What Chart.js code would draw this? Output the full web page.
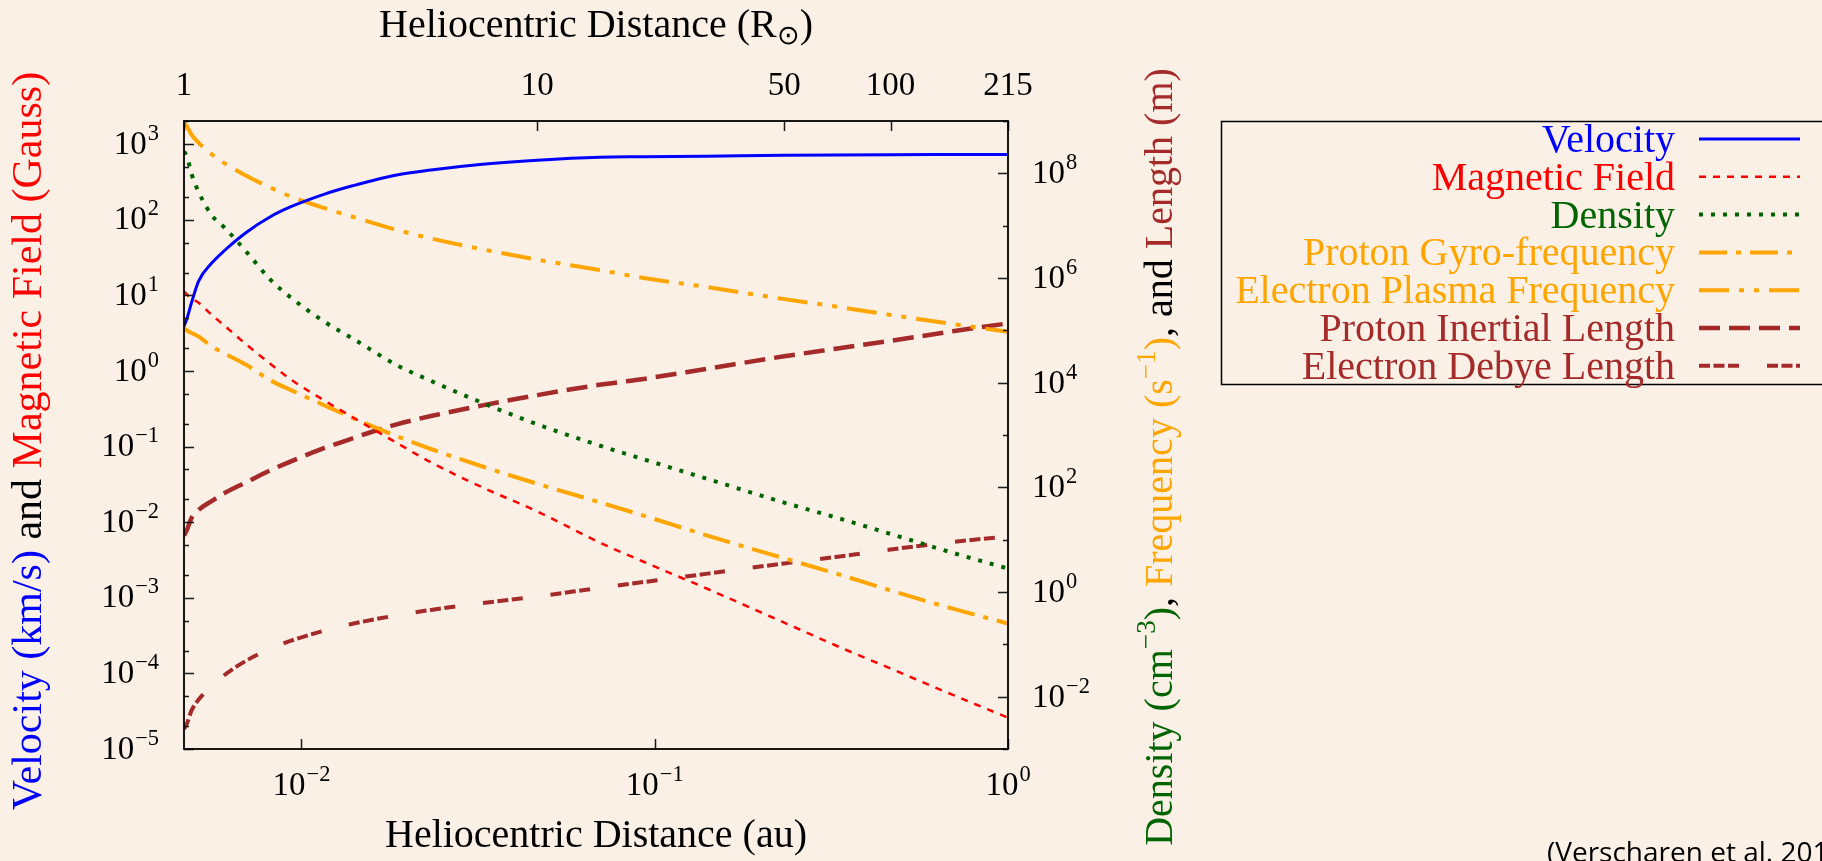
<!DOCTYPE html>
<html>
<head>
<meta charset="utf-8">
<title>Solar wind parameters vs heliocentric distance</title>
<script src="https://cdn.jsdelivr.net/npm/chart.js@4.4.1/dist/chart.umd.min.js"></script>
<style>
  html, body { margin: 0; padding: 0; background: #faf0e6; overflow: hidden; }
  #wrap { position: relative; width: 1822px; height: 861px; overflow: hidden; }
  #cite {
    position: absolute; left: 1547px; top: 837px;
    font-family: "Open Sans", "Liberation Sans", sans-serif; font-size: 28px;
    color: #000; white-space: nowrap; line-height: 28px;
  }
</style>
</head>
<body>
<div id="wrap">
  <canvas id="chart" width="1822" height="861"></canvas>
  <div id="cite">(Verscharen et al. 2019)</div>
</div>
<script>
// distance from the sun centre, in solar radii
const radius = [1, 1.02, 1.05, 1.1, 1.2, 1.3, 1.5, 1.75, 2, 2.5, 3, 4, 5, 7, 10, 15, 20, 30, 50, 70, 100, 150, 215];

// left axis: km/s and Gauss
const velocity = [3.9, 5.0, 8.0, 15.5, 27, 39, 68, 109, 148, 219, 282, 393, 457, 544, 615, 673, 683, 695, 714, 722, 728, 730, 730];
const magneticField = [11.3, 10.3, 9.2, 8.0, 5.5, 4.0, 2.25, 1.26, 0.78, 0.405, 0.245, 0.112, 0.062, 0.0288, 0.0139, 0.0054, 0.0030, 0.00134, 0.00047, 0.000234, 0.000116, 5.2e-5, 2.6e-5];

// right axis: cm^-3, s^-1 and m
const density = [2.6e8, 2.08e8, 9.8e7, 4.4e7, 1.55e7, 9.3e6, 3.2e6, 9.5e5, 4.3e5, 1.45e5, 7.0e4, 2.17e4, 1.08e4, 4.1e3, 1.6e3, 630, 343, 148, 51, 26.6, 12.9, 5.6, 2.8];
const protonGyro = [1.09e5, 9.9e4, 8.9e4, 7.6e4, 4.9e4, 3.64e4, 2.19e4, 1.12e4, 7.3e3, 3.67e3, 2.12e3, 950, 540, 250, 117, 52, 28.8, 12.2, 4.4, 2.26, 1.07, 0.48, 0.25];
const electronPlasma = [9.0e8, 7.8e8, 5.5e8, 3.83e8, 2.29e8, 1.57e8, 9.0e7, 5.4e7, 3.63e7, 2.16e7, 1.48e7, 8.3e6, 5.7e6, 3.53e6, 2.24e6, 1.42e6, 1.0e6, 6.76e5, 3.95e5, 2.85e5, 1.97e5, 1.32e5, 9.4e4];
const inertialLength = [12, 15.5, 26, 37, 55, 77, 125, 209, 310, 565, 865, 1600, 2300, 3680, 5780, 9100, 1.18e4, 1.83e4, 3.19e4, 4.45e4, 6.3e4, 9.6e4, 1.36e5];
const debyeLength = [2.4e-3, 3.1e-3, 5.4e-3, 8.8e-3, 0.016, 0.0257, 0.0487, 0.082, 0.116, 0.183, 0.247, 0.358, 0.455, 0.614, 0.82, 1.2, 1.55, 2.22, 3.52, 4.67, 6.47, 9.06, 11.5];

// tick lists
const rsunTicks = [1, 10, 50, 100, 215];
const auTicks = [0.01, 0.1, 1];
const leftMajorExp = [-5, -4, -3, -2, -1, 0, 1, 2, 3];
const leftMinorMult = [2, 5];
const rightLabelExp = [-2, 0, 2, 4, 6, 8];
const rightMinorExp = [-3, -1, 1, 3, 5, 7, 9];

const RSUN_PER_AU = 215.03;

const SERIF = '"Liberation Serif", "Times New Roman", serif';
const font = size => size + 'px ' + SERIF;

const BLUE = '#0000ff', RED = '#ff0000', GREEN = '#006400', ORANGE = '#ffa500', BROWN = '#a52a2a';

function series(label, values, color, axis, width, dash) {
  return {
    label: label,
    data: radius.map((r, i) => ({ x: r, y: values[i] })),
    borderColor: color,
    backgroundColor: color,
    borderWidth: width,
    borderDash: dash,
    borderCapStyle: 'butt',
    xAxisID: 'xr',
    yAxisID: axis,
    clip: 0,
    fill: false
  };
}

const datasets = [
  series('Velocity', velocity, BLUE, 'yl', 3, []),
  series('Magnetic Field', magneticField, RED, 'yl', 2.5, [7, 7]),
  series('Density', density, GREEN, 'yr', 4, [4, 8]),
  series('Proton Gyro-frequency', protonGyro, ORANGE, 'yr', 4, [28, 9, 5, 9]),
  series('Electron Plasma Frequency', electronPlasma, ORANGE, 'yr', 4, [30, 10, 5, 10, 5, 10]),
  series('Proton Inertial Length', inertialLength, BROWN, 'yr', 4.5, [21, 9]),
  series('Electron Debye Length', debyeLength, BROWN, 'yr', 4, [11, 3.5, 11, 3.5, 11, 28])
];

// draw a run of text pieces, some of them raised or lowered
function richWidth(ctx, parts, size) {
  let w = 0;
  for (const p of parts) {
    ctx.font = font(p.sup || p.sub ? size * 0.68 : size);
    w += ctx.measureText(p.t).width + (p.gap || 0);
  }
  return w;
}

function drawRich(ctx, parts, x, y, size, align) {
  const total = richWidth(ctx, parts, size);
  let cx = align === 'center' ? x - total / 2 : align === 'right' ? x - total : x;
  ctx.textAlign = 'left';
  ctx.textBaseline = 'alphabetic';
  for (const p of parts) {
    const s = p.sup || p.sub ? size * 0.68 : size;
    ctx.font = font(s);
    ctx.fillStyle = p.c || '#000';
    const dy = p.sup ? -size * 0.42 : p.sub ? size * 0.18 : 0;
    cx += p.gap || 0;
    ctx.fillText(p.t, cx, y + dy);
    cx += ctx.measureText(p.t).width;
  }
}

function powParts(exp) {
  const e = exp < 0 ? '\u2212' + (-exp) : String(exp);
  return [{ t: '10' }, { t: e, sup: true, gap: 1 }];
}

const decorations = {
  id: 'decorations',
  afterDraw(chart) {
    const ctx = chart.ctx;
    const a = chart.chartArea;
    const s = chart.scales;
    ctx.save();

    // inward tick marks
    ctx.strokeStyle = '#1a1a1a';
    ctx.lineWidth = 1.5;
    ctx.beginPath();
    s.yl.ticks.forEach(t => {
      const y = Math.round(s.yl.getPixelForValue(t.value)) + 0.5;
      ctx.moveTo(a.left, y);
      ctx.lineTo(a.left + (t.major ? 10 : 5), y);
    });
    s.yr.ticks.forEach(t => {
      const y = Math.round(s.yr.getPixelForValue(t.value)) + 0.5;
      ctx.moveTo(a.right, y);
      ctx.lineTo(a.right - (t.major ? 10 : 5), y);
    });
    s.xr.ticks.forEach(t => {
      const x = Math.round(s.xr.getPixelForValue(t.value)) + 0.5;
      ctx.moveTo(x, a.top);
      ctx.lineTo(x, a.top + 10);
    });
    s.xa.ticks.forEach(t => {
      const x = Math.round(s.xa.getPixelForValue(t.value)) + 0.5;
      ctx.moveTo(x, a.bottom);
      ctx.lineTo(x, a.bottom - 10);
    });
    ctx.stroke();

    // frame
    ctx.strokeStyle = '#000';
    ctx.lineWidth = 1.8;
    ctx.strokeRect(a.left, a.top, a.right - a.left, a.bottom - a.top);

    // tick labels
    const TS = 33;
    s.yl.ticks.filter(t => t.major).forEach(t => {
      const y = s.yl.getPixelForValue(t.value);
      drawRich(ctx, powParts(Math.round(Math.log10(t.value))), 159, y + 9.5, TS, 'right');
    });
    s.yr.ticks.filter(t => t.major).forEach(t => {
      const y = s.yr.getPixelForValue(t.value);
      drawRich(ctx, powParts(Math.round(Math.log10(t.value))), 1032, y + 10, TS, 'left');
    });
    s.xa.ticks.forEach(t => {
      const x = s.xa.getPixelForValue(t.value);
      drawRich(ctx, powParts(Math.round(Math.log10(t.value))), x, 795, TS, 'center');
    });
    s.xr.ticks.forEach(t => {
      const x = s.xr.getPixelForValue(t.value);
      drawRich(ctx, [{ t: String(t.value) }], x, 95, TS, 'center');
    });

    // axis titles
    const midX = (a.left + a.right) / 2;
    drawRich(ctx, [{ t: 'Heliocentric Distance (R' }, { t: '\u2299', sub: true }, { t: ')' }], midX, 37, 40, 'center');
    drawRich(ctx, [{ t: 'Heliocentric Distance (au)' }], midX, 847, 40, 'center');

    ctx.save();
    ctx.translate(41, 441);
    ctx.rotate(-Math.PI / 2);
    drawRich(ctx, [
      { t: 'Velocity (km/s)', c: BLUE },
      { t: ' and ' },
      { t: 'Magnetic Field (Gauss)', c: RED }
    ], 0, 0, 42, 'center');
    ctx.restore();

    ctx.save();
    ctx.translate(1172, 457);
    ctx.rotate(-Math.PI / 2);
    drawRich(ctx, [
      { t: 'Density (cm', c: GREEN }, { t: '\u22123', sup: true, c: GREEN }, { t: ')', c: GREEN },
      { t: ', ' },
      { t: 'Frequency (s', c: ORANGE }, { t: '\u22121', sup: true, c: ORANGE }, { t: ')', c: ORANGE },
      { t: ', and ' },
      { t: 'Length (m)', c: BROWN }
    ], 0, 0, 40, 'center');
    ctx.restore();

    // legend box on the right
    ctx.strokeStyle = '#000';
    ctx.lineWidth = 1.5;
    ctx.strokeRect(1221.5, 121.5, 700, 263);
    chart.data.datasets.forEach((ds, i) => {
      const y = 139 + i * 37.8;
      drawRich(ctx, [{ t: ds.label, c: ds.borderColor }], 1675, y + 13, 40, 'right');
      ctx.beginPath();
      ctx.strokeStyle = ds.borderColor;
      ctx.lineWidth = ds.borderWidth;
      ctx.lineCap = 'butt';
      ctx.setLineDash(ds.borderDash);
      ctx.moveTo(1699, y);
      ctx.lineTo(1800, y);
      ctx.stroke();
      ctx.setLineDash([]);
    });

    ctx.restore();
  }
};

function logTicks(list) {
  return list.map(v => ({ value: v.value, major: v.major }));
}

const chart = new Chart(document.getElementById('chart'), {
  type: 'line',
  data: { datasets: datasets },
  options: {
    responsive: false,
    animation: false,
    layout: { padding: 0 },
    elements: {
      point: { radius: 0, hoverRadius: 0 },
      line: { cubicInterpolationMode: 'monotone' }
    },
    plugins: {
      legend: { display: false },
      tooltip: { enabled: false },
      title: { display: false }
    },
    events: [],
    scales: {
      xr: {
        type: 'logarithmic',
        position: 'top',
        min: 1,
        max: RSUN_PER_AU,
        grid: { display: false },
        border: { display: false },
        ticks: { display: false },
        afterBuildTicks: scale => { scale.ticks = rsunTicks.map(v => ({ value: v, major: true })); },
        afterFit: scale => { scale.height = 121; }
      },
      xa: {
        type: 'logarithmic',
        position: 'bottom',
        min: 1 / RSUN_PER_AU,
        max: 1,
        grid: { display: false },
        border: { display: false },
        ticks: { display: false },
        afterBuildTicks: scale => { scale.ticks = auTicks.map(v => ({ value: v, major: true })); },
        afterFit: scale => { scale.height = 112; }
      },
      yl: {
        type: 'logarithmic',
        position: 'left',
        min: 1e-5,
        max: 2030,
        grid: { display: false },
        border: { display: false },
        ticks: { display: false },
        afterBuildTicks: scale => {
          const list = [];
          leftMajorExp.forEach(e => {
            list.push({ value: Math.pow(10, e), major: true });
            leftMinorMult.forEach(m => {
              const v = m * Math.pow(10, e);
              if (v <= scale.max) list.push({ value: v, major: false });
            });
          });
          scale.ticks = logTicks(list);
        },
        afterFit: scale => { scale.width = 184; }
      },
      yr: {
        type: 'logarithmic',
        position: 'right',
        min: 1e-3,
        max: 1e9,
        grid: { display: false },
        border: { display: false },
        ticks: { display: false },
        afterBuildTicks: scale => {
          const list = rightLabelExp.map(e => ({ value: Math.pow(10, e), major: true }))
            .concat(rightMinorExp.map(e => ({ value: Math.pow(10, e), major: false })));
          scale.ticks = logTicks(list);
        },
        afterFit: scale => { scale.width = 1822 - 1008; }
      }
    }
  },
  plugins: [decorations]
});
</script>
</body>
</html>
